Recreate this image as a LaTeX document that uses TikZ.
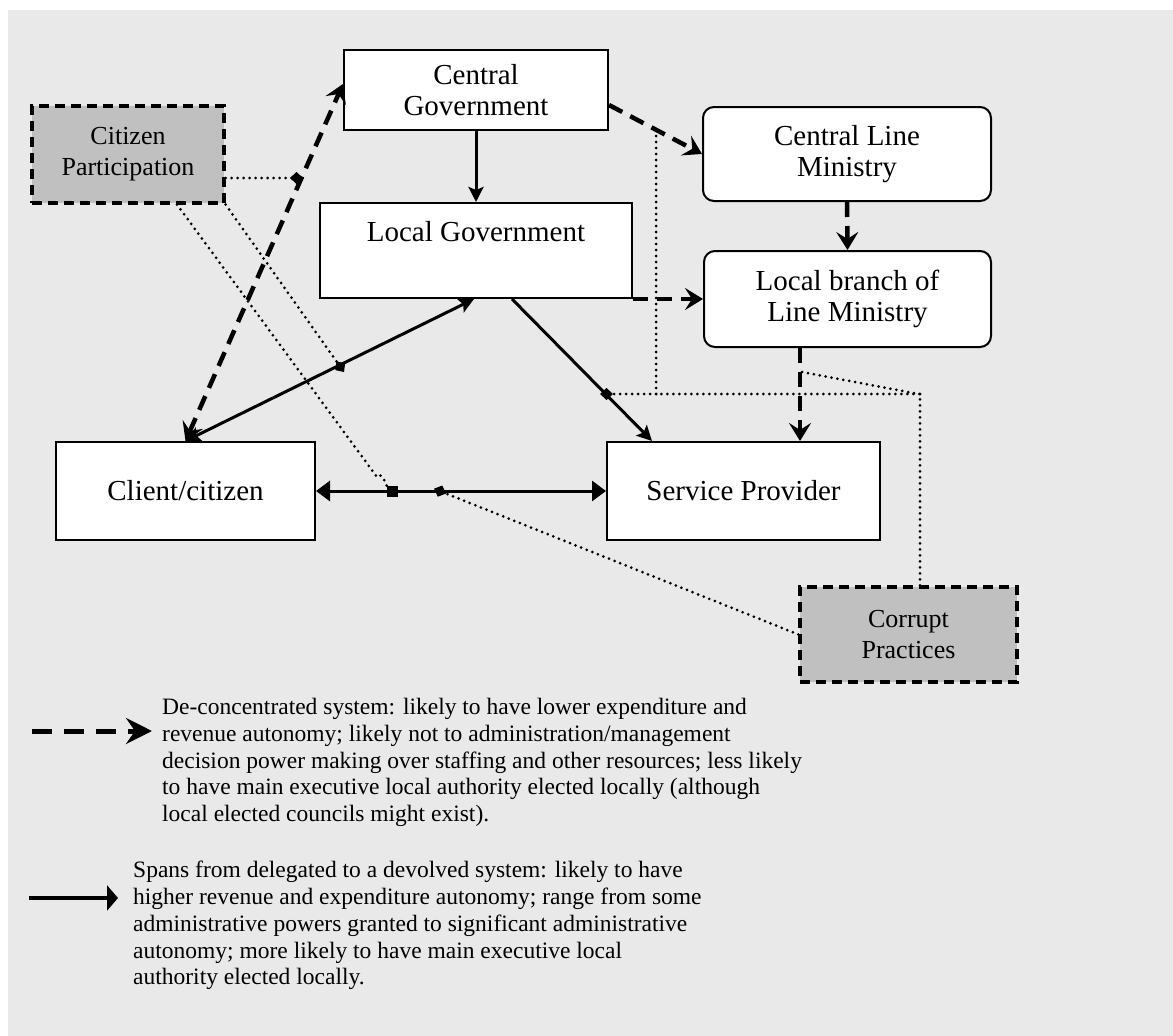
\documentclass[tikz,border=0pt]{standalone}
\usepackage{fontspec}
\setmainfont{Liberation Serif}
\usetikzlibrary{arrows.meta}
\definecolor{panelgrey}{RGB}{233,233,233}
\definecolor{boxgrey}{RGB}{192,192,192}

\begin{document}
\begin{tikzpicture}[x=1pt,y=-1pt,
  box/.style={draw=black, line width=2pt, fill=white, inner sep=0pt,
    font=\fontsize{29}{31}\selectfont, align=center},
  roundbox/.style={box, rounded corners=11pt},
  greyframe/.style={draw=black, line width=3.2pt, dash pattern=on 10pt off 6pt,
    fill=boxgrey, inner sep=0pt, font=\fontsize{26}{31}\selectfont, align=center},
  plain/.style={inner sep=0pt},
  solidlink/.style={line width=3pt, -{Stealth[length=15pt,width=15pt,inset=3pt]}},
  dashlink/.style={line width=4.5pt, dash pattern=on 15pt off 9pt,
    -{Stealth[length=18pt,width=22pt,inset=7pt]}},
  twoway/.style={line width=3pt,
    {Triangle[length=14pt,width=20pt]}-{Triangle[length=14pt,width=20pt]}},
  dotlink/.style={line width=3pt, dash pattern=on 0pt off 6pt, line cap=round},
  diamondend/.style={dotlink, -{Turned Square[length=13pt,width=12pt,sep=0pt]}},
  legendtext/.style={plain, anchor=north west, align=left,
    font=\fontsize{23.5}{26.8}\selectfont}
]
% canvas and panel
\useasboundingbox (0,0) rectangle (1173,1036);
\fill[white] (0,0) rectangle (1173,1036);
\fill[panelgrey] (8,10) rectangle (1173,1036);

% actors
\node[box, minimum width=264pt, minimum height=80pt] (cg) at (476,90) {Central\\Government};
\node[box, minimum width=312pt, minimum height=95pt] (lg) at (476,250.5) {};
\node[plain, font=\fontsize{29}{31}\selectfont] (lgtext) at (476,232) {Local Government};
\node[roundbox, minimum width=288pt, minimum height=94pt] (clm) at (847,154) {Central Line\\Ministry};
\node[roundbox, minimum width=287pt, minimum height=96pt] (lb) at (847.5,299) {Local branch of\\Line Ministry};
\node[box, minimum width=259pt, minimum height=98pt] (cc) at (185.5,491) {Client/citizen};
\node[box, minimum width=273pt, minimum height=98pt] (sp) at (743.5,491) {Service Provider};
\node[greyframe, minimum width=192pt, minimum height=97pt] (cp) at (128,154.5) {Citizen\\Participation};
\node[greyframe, minimum width=217pt, minimum height=95pt] (cpr) at (908.5,634.5) {Corrupt\\Practices};

% main relations
\draw[solidlink] (cg.south) -- (lg.north);
\draw[dashlink] ([yshift=-15pt]cg.east) -- (clm.west);
\draw[dashlink] (lg.south east) -- (lb.west);
\draw[dashlink] (clm.south) -- (lb.north);
\draw[dashlink] ([xshift=-47.5pt]lb.south) -- ([xshift=56.5pt]sp.north);
\draw[solidlink] ([xshift=36pt]lg.south) -- ([xshift=-91.5pt]sp.north);
\draw[line width=3pt, {Stealth[length=15pt,width=15pt,inset=3pt]}-{Stealth[length=15pt,width=15pt,inset=3pt]}]
  (cc.north) -- ([xshift=-2pt]lg.south);
\draw[dashlink, {Stealth[length=18pt,width=22pt,inset=7pt]}-{Stealth[length=18pt,width=22pt,inset=7pt]}]
  (cc.north) -- ([yshift=6pt]cg.west);
\draw[twoway] (cc.east) -- (sp.west);

% influence of citizen participation
\coordinate (m1) at (303,178);
\coordinate (m2) at (344,372);
\coordinate (m3) at (398,491);
\draw[diamondend] ([yshift=-23.5pt]cp.east) -- (m1);
\draw[diamondend] (cp.south east) -- (m2);
\draw[dotlink, -{Square[length=11pt,width=11pt,sep=0pt]}]
  ([xshift=49pt]cp.south) -- (377,477) to[out=54,in=180] (m3);

% influence of corrupt practices
\coordinate (m4) at (434,488.7);
\coordinate (j1) at (920,394);
\coordinate (j2) at (656,394);
\coordinate (j3) at (656,130);
\coordinate (j4) at (802,372);
\coordinate (m5) at (600,394);
\draw[diamondend] (cpr.west) -- (m4);
\draw[dotlink] ([xshift=11.5pt]cpr.north) -- (j1) -- (j2);
\draw[diamondend] (j2) -- (m5);
\draw[dotlink] (j2) -- (j3);
\draw[dotlink] (j1) -- (913,393) -- (j4);

% legend
\coordinate (la) at (32,731);
\coordinate (lb2) at (152,731);
\coordinate (lc) at (29,898);
\coordinate (ld) at (118,898);
\draw[line width=5pt, dash pattern=on 20pt off 12pt,
  -{Stealth[length=26pt,width=26pt,inset=9pt]}] (la) -- (lb2);
\draw[line width=4.5pt, -{Triangle[length=11pt,width=25pt]}] (lc) -- (ld);
\node[legendtext] (leg1) at (162,698) {De-concentrated system: likely to have lower expenditure and\\
revenue autonomy; likely not to administration/management\\
decision power making over staffing and other resources; less likely\\
to have main executive local authority elected locally (although\\
local elected councils might exist).};
\node[legendtext] (leg2) at (133,861) {Spans from delegated to a devolved system: likely to have\\
higher revenue and expenditure autonomy; range from some\\
administrative powers granted to significant administrative\\
autonomy; more likely to have main executive local\\
authority elected locally.};
\end{tikzpicture}
\end{document}
